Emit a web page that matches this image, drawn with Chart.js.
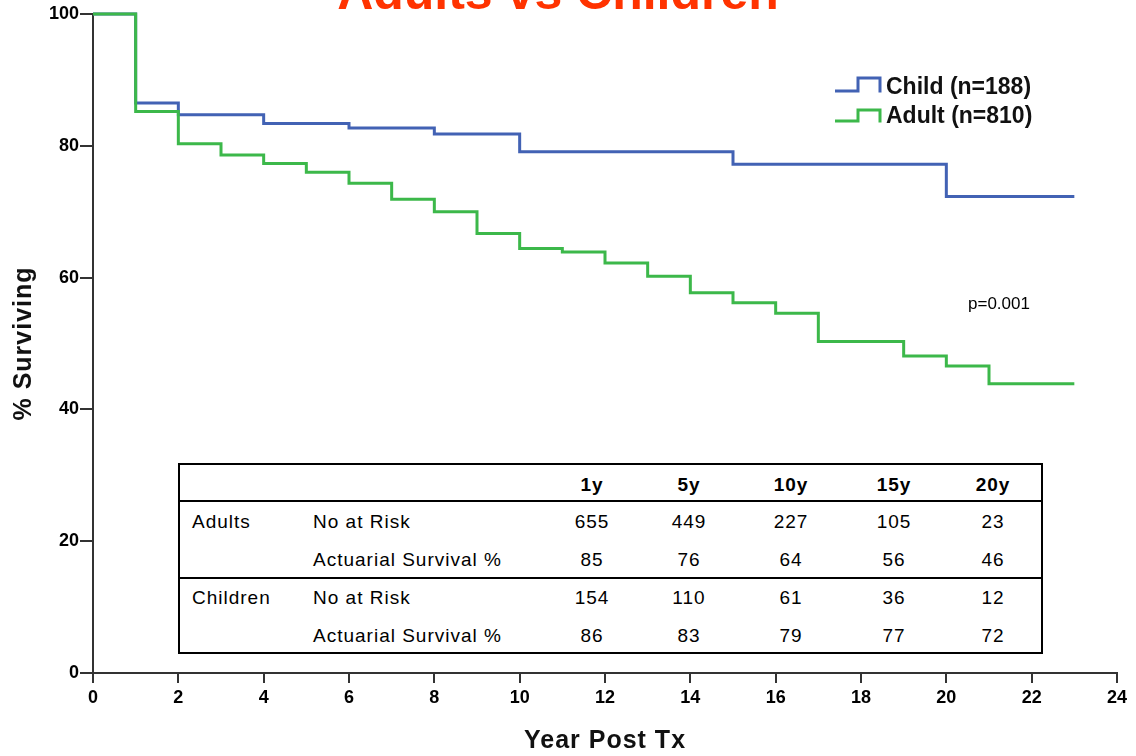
<!DOCTYPE html>
<html lang="en">
<head>
    <meta charset="UTF-8">
    <title>Adults vs Children</title>
    <script src="https://cdn.jsdelivr.net/npm/chart.js"></script>
    <style>
        body { margin: 0; background: #fff; }
        #wrap { position: relative; width: 1136px; height: 756px; overflow: hidden; }
        #survChart { position: absolute; left: 0; top: 0; }
        .tbox { position: absolute; left: 178px; top: 463px; width: 865px; height: 191px;
                box-sizing: border-box; border: 2px solid #000; background: #fff; }
        .tline { position: absolute; left: 178px; width: 865px; height: 2px; background: #000; }
        .cell { position: absolute; font: 19px "Liberation Sans", Arial, sans-serif; color: #000;
                letter-spacing: 1px; white-space: nowrap; line-height: 22px; }
        .num { transform: translate(-50%, -50%); }
        .lab { transform: translateY(-50%); }
        .hd { font-weight: bold; }
    </style>
</head>
<body>
<div id="wrap">
    <canvas id="survChart" width="1136" height="756"></canvas>
</div>

<script>
    // Kaplan-Meier style step data (year, % surviving)
    const childYears = [0, 1, 2, 4, 6, 8, 10, 15, 20, 23];
    const childSurv  = [100, 86.5, 84.7, 83.4, 82.7, 81.8, 79.1, 77.2, 72.3, 72.3];
    const adultYears = [0, 1, 2, 3, 4, 5, 6, 7, 8, 9, 10, 11, 12, 13, 14, 15, 16, 17, 19, 20, 21, 23];
    const adultSurv  = [100, 85.2, 80.3, 78.6, 77.3, 76.0, 74.3, 71.9, 70.0, 66.7, 64.4, 63.9, 62.2, 60.2, 57.7, 56.2, 54.6, 50.3, 48.1, 46.6, 43.9, 43.9];

    const seriesNames = ['Child (n=188)', 'Adult (n=810)'];
    const seriesColors = ['#4262b4', '#3cb84a'];

    // table under the curves
    const tableCols = ['1y', '5y', '10y', '15y', '20y'];
    const adultsAtRisk = [655, 449, 227, 105, 23];
    const adultsActuarial = [85, 76, 64, 56, 46];
    const childrenAtRisk = [154, 110, 61, 36, 12];
    const childrenActuarial = [86, 83, 79, 77, 72];

    const tickFont = { family: '"Liberation Sans", Arial, sans-serif', size: 18, weight: 'bold' };

    // build the table overlay
    const wrap = document.getElementById('wrap');
    function addEl(cls, text, left, top) {
        const d = document.createElement('div');
        d.className = cls;
        d.style.left = left + 'px';
        d.style.top = top + 'px';
        if (text !== null) d.textContent = text;
        wrap.appendChild(d);
        return d;
    }
    addEl('tbox', null, 178, 463);
    addEl('tline', null, 178, 500);
    addEl('tline', null, 178, 577);
    const colX = [592, 689, 791, 894, 993];
    const rowY = [485, 522, 560, 598, 636];
    const rowGroup = ['Adults', '', 'Children', ''];
    const rowLabel = ['No at Risk', 'Actuarial Survival %', 'No at Risk', 'Actuarial Survival %'];
    const rowVals = [adultsAtRisk, adultsActuarial, childrenAtRisk, childrenActuarial];
    tableCols.forEach((c, i) => addEl('cell num hd', c, colX[i], rowY[0]));
    rowVals.forEach((vals, r) => {
        if (rowGroup[r]) addEl('cell lab', rowGroup[r], 192, rowY[r + 1]);
        addEl('cell lab', rowLabel[r], 313, rowY[r + 1]);
        vals.forEach((v, i) => addEl('cell num', String(v), colX[i], rowY[r + 1]));
    });

    // titles, legend and p-value
    const decor = {
        id: 'decor',
        afterDraw(chart) {
            const ctx = chart.ctx;
            const area = chart.chartArea;
            ctx.save();
            ctx.fillStyle = '#ff3300';
            ctx.font = 'bold 50px "Liberation Sans", Arial, sans-serif';
            ctx.textAlign = 'center';
            ctx.textBaseline = 'alphabetic';
            ctx.fillText('Adults vs Children', 558, 9);

            ctx.fillStyle = '#111';
            ctx.font = 'bold 25px "Liberation Sans", Arial, sans-serif';
            ctx.letterSpacing = '1px';
            ctx.textBaseline = 'middle';
            ctx.fillText('Year Post Tx', (area.left + area.right) / 2, 741);
            ctx.save();
            ctx.translate(24, (area.top + area.bottom) / 2);
            ctx.rotate(-Math.PI / 2);
            ctx.fillText('% Surviving', 0, 0);
            ctx.restore();
            ctx.letterSpacing = '0px';

            // legend with step symbols
            const lows = [91, 121], highs = [78, 110], texts = [88, 117];
            ctx.lineWidth = 3;
            ctx.textAlign = 'left';
            ctx.font = 'bold 23px "Liberation Sans", Arial, sans-serif';
            seriesNames.forEach((name, i) => {
                ctx.strokeStyle = seriesColors[i];
                ctx.beginPath();
                ctx.moveTo(835, lows[i]);
                ctx.lineTo(858, lows[i]);
                ctx.lineTo(858, highs[i]);
                ctx.lineTo(880, highs[i]);
                ctx.lineTo(880, lows[i] + 1.5);
                ctx.stroke();
                ctx.fillStyle = '#111';
                ctx.fillText(name, 886, texts[i]);
            });

            ctx.font = '17px "Liberation Sans", Arial, sans-serif';
            ctx.fillStyle = '#000';
            ctx.fillText('p=0.001', 968, 304);
            ctx.restore();
        }
    };

    const ctx = document.getElementById('survChart').getContext('2d');
    const survChart = new Chart(ctx, {
        type: 'line',
        data: {
            datasets: [{
                label: seriesNames[0],
                data: childYears.map((x, i) => ({ x: x, y: childSurv[i] })),
                borderColor: seriesColors[0],
                borderWidth: 3,
                stepped: true,
                pointRadius: 0,
                fill: false,
                clip: false,
                order: 1
            }, {
                label: seriesNames[1],
                data: adultYears.map((x, i) => ({ x: x, y: adultSurv[i] })),
                borderColor: seriesColors[1],
                borderWidth: 3,
                stepped: true,
                pointRadius: 0,
                fill: false,
                clip: false,
                order: 0
            }]
        },
        options: {
            responsive: false,
            animation: false,
            devicePixelRatio: 1,
            layout: { padding: { top: 14, right: 19, left: 0, bottom: 0 } },
            plugins: { legend: { display: false }, tooltip: { enabled: false } },
            scales: {
                x: {
                    type: 'linear',
                    min: 0, max: 24,
                    ticks: { stepSize: 2, color: '#000', font: tickFont, padding: 4, maxRotation: 0 },
                    grid: { drawOnChartArea: false, tickLength: 10, color: '#333', lineWidth: 2 },
                    border: { color: '#333', width: 2 },
                    afterFit: s => { s.height = 83; }
                },
                y: {
                    min: 0, max: 100,
                    ticks: { stepSize: 20, color: '#000', font: tickFont, padding: 1 },
                    grid: { drawOnChartArea: false, tickLength: 13, color: '#333', lineWidth: 2 },
                    border: { color: '#333', width: 2 },
                    afterFit: s => { s.width = 93; }
                }
            }
        },
        plugins: [decor]
    });
</script>
</body>
</html>
